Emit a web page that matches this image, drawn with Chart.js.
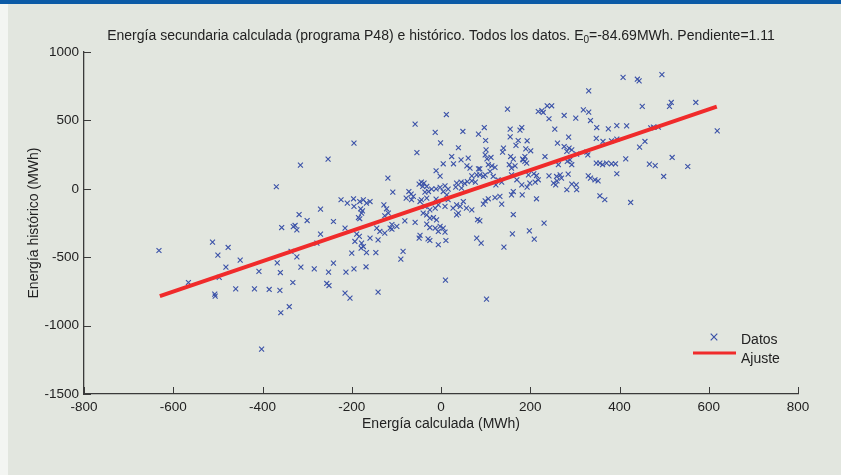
<!DOCTYPE html>
<html>
<head>
<meta charset="utf-8">
<script src="https://cdn.jsdelivr.net/npm/chart.js@4"></script>
<style>
  body { margin: 0; background: #e2e6df; }
  #wrap { position: relative; width: 841px; height: 475px; overflow: hidden; }
  #bar { position: absolute; left: 0; top: 0; width: 841px; height: 4px; background: #0b5aa6; }
  #strip { position: absolute; left: 0; top: 4px; width: 8px; height: 471px; background: #f3f5f2; }
  canvas { position: absolute; left: 0; top: 0; }
</style>
</head>
<body>
<div id="wrap">
  <div id="bar"></div>
  <div id="strip"></div>
  <canvas id="chart" width="841" height="475"></canvas>
</div>
<script>
// --- Data ---
const datosX = [
  -369, -315, -253,
  12, -58, -13, 49, 84, -195, -1, -54, 39,
  24, 45, 28, 61, 58, 65, 5,
  -11, -2, 69, 80, 84,
  -119, -108,
  -49, -44, -38, -41,
  -72, -67,
  -32, -36, -28, -21, -11, -2, 9, 16, 5,
  35, 45, 53, 59, 69, 77, 33, 46,
  408, 440, 444, 495, 331, 451, 512, 516, 571, 619,
  470, 476, 487, 457, 445, 518, 553, 467, 480, 499, 414, 416,
  149, 218, 226, 229, 238, 248, 242, 276, 302, 319, 331, 335, 349, 375, 394, 255, 286, 348, 363, 382, 394,
  97, 155, 181, 177, 155, 173, 168, 193, 100,
  261, 276, 287, 293, 282, 304, 190, 201, 188, 184, 140, 138, 101, 99, 112, 103,
  156, 162, 153, 158, 166, 183, 188, 192, 233, 289, 293, 283, 263, 329, 327,
  348, 356, 362, 371, 382, 391, 394, 330, 335, 345, 352,
  106, 114, 121, 110, 99, 95, 87, 87, 117, 128, 123, 136,
  196, 208, 214, 218, 211, 199, 193, 181, 170, 158, 162,
  242, 259, 267, 270, 260, 252, 257, 285, 293, 282, 304, 303,
  -224, -210, -196, -195, -182, -174, -167, -159, -180, -178, -185, -182, -176,
  -241, -215,
  -128, -122, -118, -126,
  -78, -66, -62, -44, -32,
  -81, -58, -99, -110, -126, -137, -144, -141, -159, -110, -114,
  -189, -183, -193, -178, -174, -179, -167, -146, -200,
  -85, -90,
  -241, -213, -195, -168,
  -215, -204, -141,
  10,
  -47, -49, -29, -25, -6, 11,
  80, 82,
  -47, -36, -25, -13, -6, 9, 16, 13, 35, 43, 50, 57, 69, 39, 35, 27,
  -40, -32, -25, -17, -10, -32, -25, -13, -2, 5, 9, -6, -11,
  99, 106, 121, 132, 136, 95, 158, 182, 214, 162, 231, 160, 198, 209, 90, 141, 102, 356, 367, 87,
  425,
  -632, -566, -512, -500, -477, -482, -497, -507, -506, -450, -460, -418, -408, -402, -385,
  -367, -360, -361, -359, -340, -332, -323, -336, -314, -284, -278, -252, -256, -251,
  -270, -300, -318, -327, -323, -331, -357, -270
];
const datosY = [
  15, 173, 217,
  543, 473, 412, 419, 400, 334, 336, 265, 300,
  236, 212, 183, 224, 168, 151, 183,
  132, 93, 95, 102, 146,
  78, -24,
  34, 49, 42, 17,
  -20, -39,
  17, -24, -20, -2, 0, 10, 22, -2, -20,
  42, 49, 39, 53, 58, 49, 12, 5,
  814, 801, 789, 835, 716, 602, 602, 631, 631, 424,
  446, 451, 451, 346, 305, 229, 163, 181, 170, 90, 219, 460,
  582, 565, 572, 558, 607, 607, 512, 536, 517, 577, 560, 499, 448, 438, 462, 436, 378, 368, 346, 351, 363,
  448, 436, 448, 429, 380, 353, 317, 351, 353,
  334, 309, 297, 285, 273, 254, 292, 278, 236, 212, 297, 268, 285, 248, 229, 219,
  236, 217, 176, 151, 168, 217, 200, 188, 236, 212, 176, 200, 176, 248, 268,
  188, 188, 176, 188, 183, 183, 110, 95, 78, 66, 58,
  176, 168, 156, 127, 102, 90, 102, 146, 90, 66, 29, 49,
  102, 110, 97, 66, 49, 42, 12, 29, 66, 102, -20,
  95, 90, 102, 78, 58, 42, 29, 107, 34, -7, -7, 29,
  -80, -105, -73, -129, -93, -80, -105, -93, -146, -178, -210, -219, -161,
  -239, -287,
  -117, -146, -178, -197,
  -68, -80, -56, -80, -68,
  -234, -246, -275, -295, -324, -312, -287, -373, -361, -261, -287,
  -331, -348, -385, -397, -422, -434, -466, -466, -470,
  -458, -514,
  -543, -609, -585, -570,
  -763, -799, -755,
  -668,
  -341, -361, -366, -378, -409, -378,
  -361, -226,
  -93, -129, -154, -141, -117, -129, -80, -44, -117, -129, -93, -141, -154, -178, -190, -141,
  -178, -190, -214, -210, -227, -258, -283, -287, -275, -287, -317, -312, -75,
  -88, -73, -64, -56, -112, -112, -44, -44, -73, -188, -251, -329, -307, -368, -397, -426, -806, -51, -80, -234,
  -100,
  -451, -685, -390, -485, -429, -573, -648, -770, -784, -521, -731, -731, -604, -1172, -736,
  -541, -612, -743, -906, -862, -685, -497, -458, -573, -585, -397, -609, -692, -707,
  -148, -232, -188, -268, -300, -276, -283, -331
];
const ajusteX = [-630, 618];
const ajusteY = [-784, 601];

const xTicks = [-800, -600, -400, -200, 0, 200, 400, 600, 800];
const yTicks = [-1500, -1000, -500, 0, 500, 1000];

const titlePre = 'Energía secundaria calculada (programa P48) e histórico. Todos los datos. E';
const titleSub = '0';
const titlePost = '=-84.69MWh. Pendiente=1.11';
const xTitle = 'Energía calculada (MWh)';
const yTitle = 'Energía histórico (MWh)';
const legendLabels = ['Datos', 'Ajuste'];

const FONT = '"Liberation Sans", Arial, sans-serif';
const TEXT = '#222';
const AXIS = '#3a3a3a';
const BLUE = '#3b52a8';
const RED = '#f02b2b';

const scatterPts = datosX.map((x, i) => ({ x: x, y: datosY[i] }));
const fitPts = ajusteX.map((x, i) => ({ x: x, y: ajusteY[i] }));

// inward ticks, title with subscript, legend
const decorations = {
  id: 'decorations',
  afterDraw(chart) {
    const c = chart.ctx;
    const xs = chart.scales.x, ys = chart.scales.y;
    const a = chart.chartArea;
    c.save();
    c.strokeStyle = AXIS;
    c.lineWidth = 1;
    c.beginPath();
    xTicks.forEach(v => {
      const px = Math.round(xs.getPixelForValue(v)) + 0.5;
      c.moveTo(px, a.bottom);
      c.lineTo(px, a.bottom - 7);
    });
    yTicks.forEach(v => {
      const py = Math.round(ys.getPixelForValue(v)) + 0.5;
      c.moveTo(a.left, py);
      c.lineTo(a.left + 7, py);
    });
    c.stroke();

    // title
    c.fillStyle = TEXT;
    c.textBaseline = 'alphabetic';
    c.textAlign = 'left';
    const big = '14px ' + FONT, small = '10px ' + FONT;
    c.font = big;
    const w1 = c.measureText(titlePre).width;
    const w3 = c.measureText(titlePost).width;
    c.font = small;
    const w2 = c.measureText(titleSub).width;
    let tx = (a.left + a.right) / 2 - (w1 + w2 + w3) / 2;
    const ty = 40;
    c.font = big;
    c.fillText(titlePre, tx, ty);
    c.font = small;
    c.fillText(titleSub, tx + w1, ty + 3);
    c.font = big;
    c.fillText(titlePost, tx + w1 + w2, ty);

    // legend
    c.strokeStyle = BLUE;
    c.lineWidth = 1.2;
    const mx = 714, my = 337, r = 3.3;
    c.beginPath();
    c.moveTo(mx - r, my - r); c.lineTo(mx + r, my + r);
    c.moveTo(mx - r, my + r); c.lineTo(mx + r, my - r);
    c.stroke();
    c.strokeStyle = RED;
    c.lineWidth = 3;
    c.beginPath();
    c.moveTo(693, 353); c.lineTo(736, 353);
    c.stroke();
    c.font = '14px ' + FONT;
    c.textBaseline = 'middle';
    c.fillText(legendLabels[0], 741, 340);
    c.fillText(legendLabels[1], 741, 359);
    c.restore();
  }
};

const ctx = document.getElementById('chart').getContext('2d');
new Chart(ctx, {
  type: 'scatter',
  data: {
    datasets: [
      {
        label: legendLabels[0],
        data: scatterPts,
        pointStyle: 'crossRot',
        pointRadius: 3.5,
        pointBorderWidth: 1.1,
        borderColor: BLUE,
        backgroundColor: BLUE,
        order: 2
      },
      {
        label: legendLabels[1],
        type: 'line',
        data: fitPts,
        borderColor: RED,
        borderWidth: 4,
        pointRadius: 0,
        fill: false,
        order: 1
      }
    ]
  },
  options: {
    responsive: false,
    animation: false,
    devicePixelRatio: 1,
    layout: { padding: { top: 52, right: 43, left: 0, bottom: 0 } },
    plugins: {
      legend: { display: false },
      tooltip: { enabled: false }
    },
    scales: {
      x: {
        type: 'linear',
        min: -800,
        max: 800,
        afterBuildTicks: s => { s.ticks = xTicks.map(v => ({ value: v })); },
        afterFit: s => { s.height = 81; },
        grid: { display: false, drawTicks: false, tickLength: 0 },
        border: { display: true, color: AXIS, width: 1.3 },
        ticks: { color: TEXT, font: { family: FONT, size: 13.5 }, padding: 5, maxRotation: 0, callback: v => String(v) },
        title: { display: true, text: xTitle, color: TEXT, font: { family: FONT, size: 14 }, padding: { top: 4, bottom: 42 } }
      },
      y: {
        type: 'linear',
        min: -1500,
        max: 1000,
        afterBuildTicks: s => { s.ticks = yTicks.map(v => ({ value: v })); },
        afterFit: s => { s.width = 84; },
        grid: { display: false, drawTicks: false, tickLength: 0 },
        border: { display: true, color: AXIS, width: 1.3 },
        ticks: { color: TEXT, font: { family: FONT, size: 13.5 }, padding: 5, callback: v => String(v) },
        title: { display: true, text: yTitle, color: TEXT, font: { family: FONT, size: 14 }, padding: { top: 26, bottom: 4 } }
      }
    }
  },
  plugins: [decorations]
});
</script>
</body>
</html>
